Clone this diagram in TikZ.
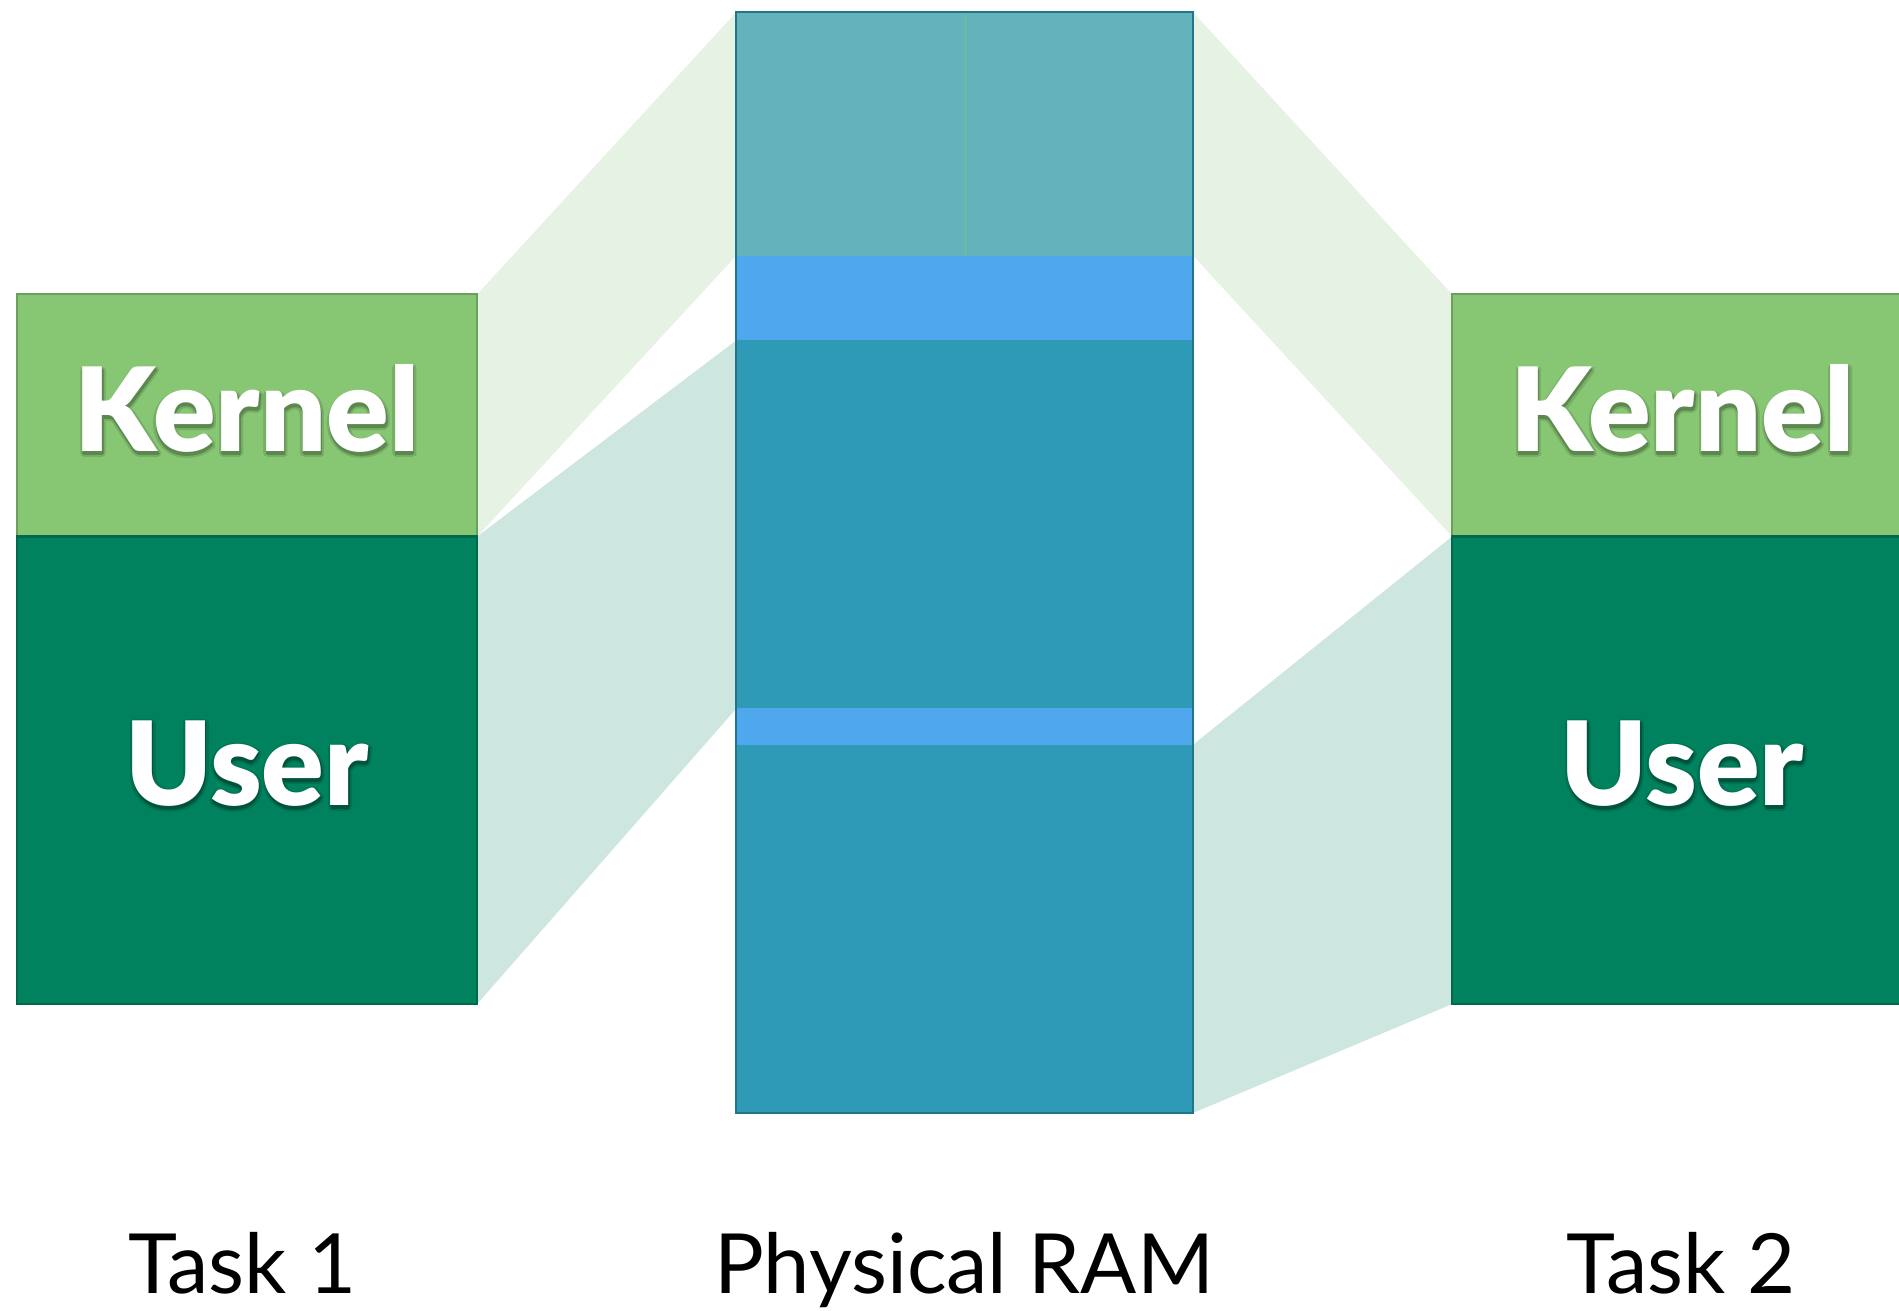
\documentclass[tikz,border=0pt]{standalone}
\usepackage{fontspec}
\setmainfont{Lato}
\newfontfamily\heavyfont{Lato Black}
\definecolor{kgreen}{HTML}{87C673}
\definecolor{ugreen}{HTML}{00825E}
\definecolor{ramtop}{HTML}{65B3BA}
\definecolor{ramlight}{HTML}{4FA8EE}
\definecolor{ramteal}{HTML}{2E9AB6}
\definecolor{mapgreen}{HTML}{E6F2E3}
\definecolor{mapteal}{HTML}{CDE6E0}
\tikzset{
  kbox/.style={fill=kgreen, draw=kgreen!80!black, line width=0.5pt},
  ubox/.style={fill=ugreen, draw=ugreen!80!black, line width=0.5pt},
  mapk/.style={fill=mapgreen},
  mapu/.style={fill=mapteal},
  boxtext/.style={text=white, font=\fontsize{27.3}{30}\selectfont\heavyfont, inner sep=0pt, anchor=base},
  label/.style={text=black, font=\fontsize{19.5}{22}\selectfont, inner sep=0pt, anchor=base}
}
% #1 text, #2 outer shadow colour, #3 inner shadow colour
\newcommand\shcopy[4]{\rlap{\hspace{#1}\raisebox{#2}{\textcolor{#3}{#4}}}}
\newcommand\shadowedtext[3]{%
  \shcopy{-0.5pt}{-0.6pt}{#2}{#1}\shcopy{0.9pt}{-0.6pt}{#2}{#1}%
  \shcopy{0.2pt}{0.1pt}{#2}{#1}\shcopy{0.2pt}{-1.4pt}{#2}{#1}%
  \shcopy{-0.3pt}{-1.1pt}{#2}{#1}\shcopy{0.7pt}{-1.1pt}{#2}{#1}%
  \shcopy{-0.3pt}{-0.1pt}{#2}{#1}\shcopy{0.7pt}{-0.1pt}{#2}{#1}%
  \shcopy{0.2pt}{-0.9pt}{#3}{#1}\shcopy{0.4pt}{-0.6pt}{#3}{#1}%
  \shcopy{0.0pt}{-0.6pt}{#3}{#1}\shcopy{0.2pt}{-0.4pt}{#3}{#1}%
  #1}
\begin{document}
\begin{tikzpicture}[x=0.01cm,y=-0.01cm]
\useasboundingbox (0,0) rectangle (1568,1082);
\begin{scope}
\clip (0,0) rectangle (1568,1082);
% coordinates
\coordinate (t1kt) at (394,243);
\coordinate (t1ks) at (394,443);
\coordinate (t1ub) at (394,829);
\coordinate (t2kt) at (1199,243);
\coordinate (t2ks) at (1199,443);
\coordinate (t2ub) at (1199,829);
\coordinate (rlt) at (608,10);
\coordinate (rl1) at (608,211);
\coordinate (rl2) at (608,281);
\coordinate (rl3) at (608,585);
\coordinate (rrt) at (985,10);
\coordinate (rr1) at (985,211);
\coordinate (rr4) at (985,615);
\coordinate (rrb) at (985,919);
% mapping regions
\fill[mapk] (t1kt) -- (rlt) -- (rl1) -- (t1ks) -- cycle;
\fill[mapu] (t1ks) -- (rl2) -- (rl3) -- (t1ub) -- cycle;
\fill[mapk] (rrt) -- (t2kt) -- (t2ks) -- (rr1) -- cycle;
\fill[mapu] (rr4) -- (t2ks) -- (t2ub) -- (rrb) -- cycle;
% task 1
\draw[kbox] (14,243) rectangle (394,443);
\draw[ubox] (14,443) rectangle (394,829);
% task 2
\draw[kbox] (1199,243) rectangle (1579,443);
\draw[ubox] (1199,443) rectangle (1579,829);
% physical RAM
\fill[ramtop] (608,10) rectangle (985,211);
\draw[kgreen!60!ramtop, line width=0.3pt] (797,10) -- (797,211);
\fill[ramlight] (608,211) rectangle (985,281);
\fill[ramteal] (608,281) rectangle (985,585);
\fill[ramlight] (608,585) rectangle (985,615);
\fill[ramteal] (608,615) rectangle (985,919);
\draw[ramteal!75!black, line width=0.5pt] (608,10) rectangle (985,919);
% texts
\node[boxtext] (k1) at (204,373) {\shadowedtext{Kernel}{kgreen!88!black}{kgreen!68!black}};
\node[boxtext] (u1) at (204,665) {\shadowedtext{User}{ugreen!88!black}{ugreen!65!black}};
\node[boxtext] (k2) at (1389,373) {\shadowedtext{Kernel}{kgreen!88!black}{kgreen!68!black}};
\node[boxtext] (u2) at (1389,665) {\shadowedtext{User}{ugreen!88!black}{ugreen!65!black}};
\end{scope}
\node[label] (l1) at (200,1068) {Task 1};
\node[label] (l2) at (796,1068) {Physical RAM};
\node[label] (l3) at (1388,1068) {Task 2};
\end{tikzpicture}
\end{document}
